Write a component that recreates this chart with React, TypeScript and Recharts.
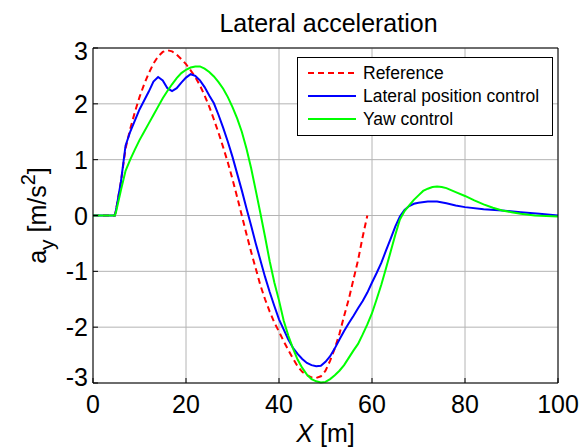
import React from 'react';
import {
  LineChart,
  Line,
  XAxis,
  YAxis,
  CartesianGrid,
  Legend,
  Label,
} from 'recharts';

// [x (m), a_y (m/s^2)]
const referenceCurve: [number, number][] = [
  [0, 0], [4.7, 0], [5, 0.12], [6, 0.6], [7, 1.2], [8, 1.55], [9, 1.85], [10, 2.12],
  [11, 2.35], [12, 2.55], [13, 2.72], [14, 2.85], [15, 2.93], [16, 2.96], [17, 2.94],
  [18, 2.88], [19, 2.8], [20, 2.71], [21, 2.6], [22, 2.48], [23, 2.33], [24, 2.15],
  [25, 1.95], [26, 1.72], [27, 1.48], [28, 1.22], [29, 0.95], [30, 0.65], [31, 0.33],
  [32, 0.0], [33, -0.33], [34, -0.65], [35, -0.95], [36, -1.25], [37, -1.5], [38, -1.72],
  [39, -1.92], [40, -2.08], [41, -2.25], [42, -2.41], [43, -2.56], [44, -2.7], [45, -2.8],
  [46, -2.86], [47, -2.9], [48, -2.91], [49, -2.88], [50, -2.78], [51, -2.6], [52, -2.38],
  [53, -2.12], [54, -1.8], [55, -1.5], [56, -1.15], [57, -0.8], [58, -0.38], [59, 0],
];

const lateralCurve: [number, number][] = [
  [0, 0], [4.7, 0], [5, 0.12], [6, 0.6], [7, 1.25], [8, 1.5], [9, 1.7], [10, 1.9],
  [11, 2.06], [12, 2.22], [13, 2.4], [14, 2.48], [15, 2.42], [16, 2.28], [17, 2.23],
  [18, 2.28], [19, 2.38], [20, 2.47], [21, 2.53], [22, 2.5], [23, 2.42], [24, 2.3],
  [25, 2.15], [26, 2.01], [27, 1.8], [28, 1.57], [29, 1.32], [30, 1.05], [31, 0.75],
  [32, 0.45], [33, 0.13], [34, -0.18], [35, -0.5], [36, -0.8], [37, -1.1], [38, -1.37],
  [39, -1.62], [40, -1.86], [41, -2.04], [42, -2.22], [43, -2.37], [44, -2.48], [45, -2.57],
  [46, -2.64], [47, -2.68], [48, -2.7], [49, -2.69], [50, -2.62], [51, -2.52], [52, -2.38],
  [53, -2.22], [54, -2.07], [55, -1.93], [56, -1.8], [57, -1.66], [58, -1.53], [59, -1.38],
  [60, -1.2], [61, -1.03], [62, -0.85], [63, -0.63], [64, -0.42], [65, -0.2], [66, -0.02],
  [67, 0.1], [68, 0.17], [69, 0.21], [70, 0.23], [72, 0.25], [74, 0.25], [76, 0.22],
  [78, 0.18], [80, 0.15], [84, 0.11], [88, 0.09], [92, 0.06], [96, 0.03], [100, 0],
];

const yawCurve: [number, number][] = [
  [0, 0], [4.7, 0], [5, 0.08], [6, 0.45], [7, 0.8], [8, 1.0], [9, 1.18], [10, 1.35],
  [11, 1.5], [12, 1.65], [13, 1.8], [14, 1.95], [15, 2.1], [16, 2.23], [17, 2.35],
  [18, 2.46], [19, 2.55], [20, 2.61], [21, 2.65], [22, 2.67], [23, 2.67], [24, 2.63],
  [25, 2.57], [26, 2.49], [27, 2.39], [28, 2.27], [29, 2.12], [30, 1.94], [31, 1.74],
  [32, 1.5], [33, 1.2], [34, 0.85], [35, 0.45], [36, 0.04], [37, -0.38], [38, -0.82],
  [39, -1.2], [40, -1.52], [41, -1.88], [42, -2.15], [43, -2.38], [44, -2.58], [45, -2.73],
  [46, -2.85], [47, -2.93], [48, -2.97], [49, -2.99], [50, -2.98], [51, -2.93], [52, -2.86],
  [53, -2.78], [54, -2.68], [55, -2.55], [56, -2.42], [57, -2.3], [58, -2.13], [59, -1.95],
  [60, -1.75], [61, -1.5], [62, -1.24], [63, -0.95], [64, -0.65], [65, -0.35], [66, -0.07],
  [67, 0.08], [68, 0.18], [69, 0.28], [70, 0.36], [71, 0.44], [72, 0.48], [73, 0.51],
  [74, 0.52], [75, 0.51], [76, 0.49], [78, 0.42], [80, 0.35], [82, 0.27], [84, 0.2],
  [86, 0.14], [88, 0.09], [90, 0.06], [92, 0.03], [95, 0], [100, -0.02],
];

const xTicks = [0, 20, 40, 60, 80, 100];
const yTicks = [-3, -2, -1, 0, 1, 2, 3];

const series = [
  { name: 'Reference', points: referenceCurve, color: '#ff0000', dash: '6 4' },
  { name: 'Lateral position control', points: lateralCurve, color: '#0000ff', dash: undefined },
  { name: 'Yaw control', points: yawCurve, color: '#00ff00', dash: undefined },
];

const FONT = '"Liberation Sans", Arial, sans-serif';
const toRows = (pts: [number, number][]) => pts.map(([x, y]) => ({ x, y }));

const XTick = ({ x, y, payload }: any) => (
  <text x={x} y={y} dy={30} textAnchor='middle' fontSize={25} fontFamily={FONT} fill='#000'>
    {payload.value}
  </text>
);

const YTick = ({ x, y, payload }: any) => {
  // matlab nudges the end labels a bit
  const shift = payload.value === 3 ? 3 : payload.value === -3 ? -6 : 0;
  return (
    <text x={x} y={y + shift} dy={9} textAnchor='end' fontSize={25} fontFamily={FONT} fill='#000'>
      {payload.value}
    </text>
  );
};

const NoTick = () => <g />;

const TitleLabel = ({ viewBox }: any) => (
  <text x={viewBox.x + viewBox.width / 2 + 3} y={32} textAnchor='middle' fontSize={25} fontFamily={FONT} fill='#000'>
    Lateral acceleration
  </text>
);

const XLabel = ({ viewBox }: any) => (
  <text x={viewBox.x + viewBox.width / 2} y={442} textAnchor='middle' fontSize={25} fontFamily={FONT} fill='#000'>
    <tspan fontStyle='italic'>X</tspan>
    <tspan> [m]</tspan>
  </text>
);

const YLabel = ({ viewBox }: any) => {
  const cx = 46;
  const cy = viewBox.y + viewBox.height / 2;
  return (
    <text x={cx} y={cy} transform={`rotate(-90 ${cx} ${cy})`} textAnchor='middle' fontSize={25} fontFamily={FONT} fill='#000'>
      <tspan>a</tspan>
      <tspan fontSize={21} dy={8}>y</tspan>
      <tspan dy={-8}> [m/s</tspan>
      <tspan fontSize={20} dy={-11}>2</tspan>
      <tspan dy={11}>]</tspan>
    </text>
  );
};

const LegendBox = () => (
  <div
    style={{
      boxSizing: 'border-box',
      width: 256,
      height: 79,
      border: '1px solid #000',
      background: '#fff',
      paddingTop: 4,
      fontFamily: FONT,
      fontSize: 17.5,
      color: '#000',
    }}
  >
    {series.map((s) => (
      <div key={s.name} style={{ display: 'flex', alignItems: 'center', height: 22.7 }}>
        <svg width={48} height={4} style={{ marginLeft: 10, marginRight: 7 }}>
          <line x1={0} x2={48} y1={2} y2={2} stroke={s.color} strokeWidth={2} strokeDasharray={s.dash} />
        </svg>
        <span style={{ whiteSpace: 'nowrap', lineHeight: '20px' }}>{s.name}</span>
      </div>
    ))}
  </div>
);

export default function App() {
  return (
    <div style={{ position: 'absolute', left: 0, top: 0, width: 583, height: 448, background: '#fff' }}>
      <LineChart width={583} height={448} margin={{ top: 18, right: 15, bottom: 0, left: 0 }}>
        <CartesianGrid stroke='#b4b4b4' strokeWidth={1} />
        <XAxis
          dataKey='x'
          type='number'
          domain={[0, 100]}
          ticks={xTicks}
          height={65}
          stroke='#000'
          tickSize={-5}
          tickMargin={5}
          tick={<XTick />}
        >
          <Label content={<XLabel />} />
        </XAxis>
        <XAxis
          xAxisId='top'
          orientation='top'
          dataKey='x'
          type='number'
          domain={[0, 100]}
          ticks={xTicks}
          height={30}
          stroke='#000'
          tickSize={-5}
          tick={<NoTick />}
        >
          <Label content={<TitleLabel />} />
        </XAxis>
        <YAxis
          type='number'
          domain={[-3, 3]}
          ticks={yTicks}
          width={93}
          stroke='#000'
          tickSize={-5}
          tickMargin={10}
          tick={<YTick />}
        >
          <Label content={<YLabel />} />
        </YAxis>
        <YAxis
          yAxisId='right'
          orientation='right'
          type='number'
          domain={[-3, 3]}
          ticks={yTicks}
          width={10}
          stroke='#000'
          tickSize={-5}
          tick={<NoTick />}
        />
        <Legend
          layout='vertical'
          align='center'
          verticalAlign='middle'
          content={<LegendBox />}
          wrapperStyle={{ left: 297, top: 57, width: 256, height: 79 }}
        />
        {series.map((s) => (
          <Line
            key={s.name}
            data={toRows(s.points)}
            dataKey='y'
            name={s.name}
            type='linear'
            stroke={s.color}
            strokeWidth={2}
            strokeDasharray={s.dash}
            dot={false}
            activeDot={false}
            isAnimationActive={false}
          />
        ))}
      </LineChart>
    </div>
  );
}
